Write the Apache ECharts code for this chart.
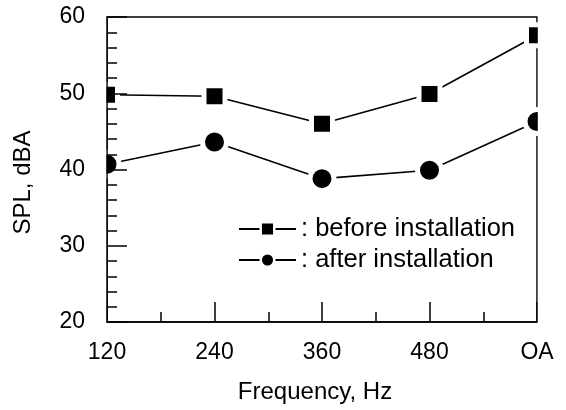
<!DOCTYPE html>
<html>
<head>
<meta charset="utf-8">
<script src="https://cdn.jsdelivr.net/npm/echarts@6/dist/echarts.min.js"></script>
<style>
html,body{margin:0;padding:0;background:#fff;}
#main{width:566px;height:410px;}
</style>
</head>
<body>
<div id="main"></div>
<script>
const categories = ['120', '240', '360', '480', 'OA'];
const beforeValues = [49.8, 49.6, 46.0, 49.9, 57.6];
const afterValues = [40.7, 43.6, 38.8, 39.9, 46.3];
const seriesNames = ['before installation', 'after installation'];
const yTicks = [20, 30, 40, 50, 60];

const FONT = '"Liberation Sans", Arial, Helvetica, sans-serif';
const G = { left: 107, right: 29, top: 17, bottom: 88 };

const chart = echarts.init(document.getElementById('main'), null, { renderer: 'canvas' });

const toPairs = vals => categories.map((c, i) => [i, vals[i]]);

const option = {
  animation: false,
  backgroundColor: '#fff',
  textStyle: { fontFamily: FONT, color: '#000' },
  grid: {
    left: G.left, right: G.right, top: G.top, bottom: G.bottom,
    show: true, borderColor: '#000', borderWidth: 1.5, backgroundColor: 'transparent'
  },
  legend: {
    orient: 'vertical',
    left: 238, top: 216, padding: 0,
    itemWidth: 57, itemHeight: 17, itemGap: 5,
    formatter: name => ': ' + name,
    textStyle: { fontFamily: FONT, fontSize: 25.5, color: '#000' },
    itemStyle: { borderColor: '#fff', borderWidth: 2.5 },
    selectedMode: false
  },
  xAxis: {
    type: 'value',
    min: 0, max: 4, interval: 1,
    z: 10,
    name: 'Frequency, Hz',
    nameLocation: 'middle',
    nameGap: 58,
    nameTextStyle: { fontFamily: FONT, fontSize: 24, color: '#000', padding: [0, 14, 0, 0] },
    axisLine: { show: true, lineStyle: { color: '#000', width: 1.5 } },
    axisTick: { show: true, inside: true, length: 20, lineStyle: { color: '#000', width: 1.5 } },
    minorTick: { show: true, splitNumber: 2, length: 10, lineStyle: { color: '#000', width: 1.5 } },
    splitLine: { show: false },
    minorSplitLine: { show: false },
    axisLabel: {
      margin: 19,
      fontFamily: FONT, fontSize: 23, color: '#000',
      formatter: v => categories[Math.round(v)]
    }
  },
  yAxis: {
    type: 'value',
    min: yTicks[0], max: yTicks[yTicks.length - 1], interval: 10,
    z: 10,
    name: 'SPL, dBA',
    nameLocation: 'middle',
    nameGap: 72,
    nameRotate: 90,
    nameTextStyle: { fontFamily: FONT, fontSize: 24, color: '#000', padding: [0, 26, 0, 0] },
    axisLine: { show: true, lineStyle: { color: '#000', width: 1.5 } },
    axisTick: { show: true, inside: true, length: 20, lineStyle: { color: '#000', width: 1.5 } },
    minorTick: { show: true, splitNumber: 5, length: 10, lineStyle: { color: '#000', width: 1.5 } },
    splitLine: { show: false },
    minorSplitLine: { show: false },
    axisLabel: { margin: 22, fontFamily: FONT, fontSize: 23, color: '#000' }
  },
  graphic: [
    { type: 'rect', z: 100, silent: true, shape: { x: 88, y: 5, width: G.left - 0.8 - 88, height: 330 }, style: { fill: '#fff' } },
    { type: 'rect', z: 100, silent: true, shape: { x: 566 - G.right + 0.8, y: 5, width: 24, height: 330 }, style: { fill: '#fff' } }
  ],
  series: [
    {
      name: seriesNames[0], type: 'line', z: 3,
      data: toPairs(beforeValues),
      symbol: 'rect', symbolSize: 21,
      lineStyle: { color: '#000', width: 1.6 },
      itemStyle: { color: '#000', borderColor: '#fff', borderWidth: 5 },
      emphasis: { disabled: true }
    },
    {
      name: seriesNames[1], type: 'line', z: 3,
      data: toPairs(afterValues),
      symbol: 'circle', symbolSize: 24,
      lineStyle: { color: '#000', width: 1.6 },
      itemStyle: { color: '#000', borderColor: '#fff', borderWidth: 5 },
      emphasis: { disabled: true }
    }
  ]
};
chart.setOption(option);
</script>
</body>
</html>
